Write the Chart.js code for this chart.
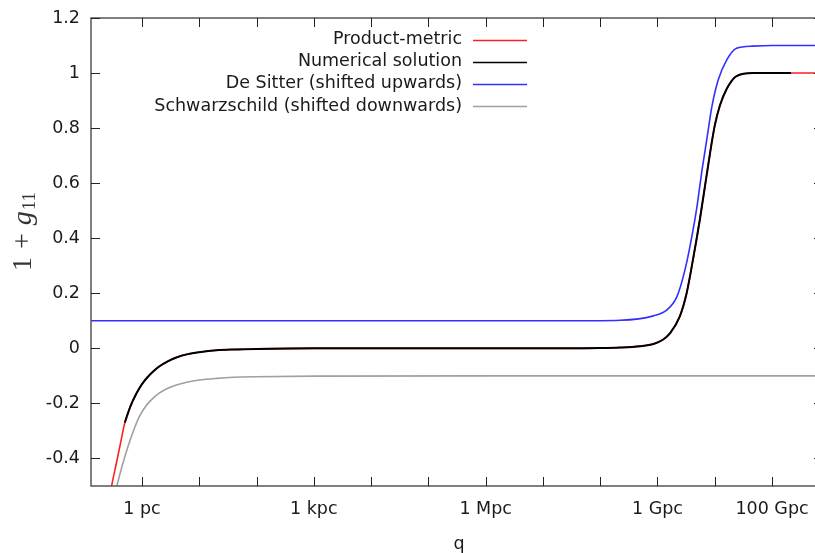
<!DOCTYPE html>
<html>
<head>
<meta charset="utf-8">
<script src="https://cdn.jsdelivr.net/npm/chart.js@4.4.0/dist/chart.umd.min.js"></script>
<style>
  html, body { margin: 0; padding: 0; background: #fff; overflow: hidden; }
  #wrap { width: 830px; height: 553px; }
</style>
</head>
<body>
<div id="wrap"><canvas id="myChart" width="830" height="553"></canvas></div>
<script>
// x values are log10(q / 1 pc)
const numericalX = [-0.30, -0.20, -0.10, 0.00, 0.10, 0.20, 0.30, 0.45, 0.60, 0.80, 1.00, 1.30, 1.60, 2.00, 3.00, 5.00, 7.00, 8.00, 8.35, 8.70, 8.93, 9.10, 9.22, 9.39, 9.51, 9.63, 9.74, 9.83, 9.92, 10.00, 10.09, 10.21, 10.38, 10.67, 11.00, 11.33];
const numericalY = [-0.27, -0.21, -0.165, -0.13, -0.104, -0.083, -0.066, -0.047, -0.033, -0.021, -0.014, -0.007, -0.004, -0.002, 0, 0, 0, 0.001, 0.003, 0.008, 0.016, 0.032, 0.055, 0.116, 0.201, 0.334, 0.468, 0.590, 0.712, 0.809, 0.882, 0.943, 0.989, 1.0, 1.0, 1.0];

const productX = [-0.60, -0.53, -0.45, -0.38, -0.30, -0.20, -0.10, 0.00, 0.10, 0.20, 0.30, 0.45, 0.60, 0.80, 1.00, 1.30, 1.60, 2.00, 3.00, 5.00, 7.00, 8.00, 8.35, 8.70, 8.93, 9.10, 9.22, 9.39, 9.51, 9.63, 9.74, 9.83, 9.92, 10.00, 10.09, 10.21, 10.38, 10.67, 11.00, 11.33, 11.60, 11.89];
const productY = [-0.58, -0.50, -0.42, -0.35, -0.27, -0.21, -0.165, -0.13, -0.104, -0.083, -0.066, -0.047, -0.033, -0.021, -0.014, -0.007, -0.004, -0.002, 0, 0, 0, 0.001, 0.003, 0.008, 0.016, 0.032, 0.055, 0.116, 0.201, 0.334, 0.468, 0.590, 0.712, 0.809, 0.882, 0.943, 0.989, 1.0, 1.0, 1.0, 1.0, 1.0];

const deSitterX = [-0.89, 2.00, 5.00, 7.50, 8.35, 8.93, 9.16, 9.34, 9.48, 9.60, 9.69, 9.77, 9.86, 9.95, 10.06, 10.21, 10.38, 10.67, 11.00, 11.89];
const deSitterY = [0.1, 0.1, 0.1, 0.1, 0.102, 0.118, 0.139, 0.188, 0.285, 0.406, 0.515, 0.636, 0.757, 0.878, 0.975, 1.048, 1.090, 1.098, 1.1, 1.1];

const schwarzX = [-0.55, -0.45, -0.35, -0.25, -0.15, -0.05, 0.05, 0.15, 0.30, 0.45, 0.60, 0.80, 1.00, 1.30, 1.60, 2.00, 3.00, 6.00, 9.00, 11.89];
const schwarzY = [-0.61, -0.51, -0.43, -0.36, -0.30, -0.25, -0.215, -0.19, -0.163, -0.145, -0.133, -0.122, -0.115, -0.109, -0.105, -0.103, -0.101, -0.1, -0.1, -0.1];

const xTickValues = [0, 1, 2, 3, 4, 5, 6, 7, 8, 9, 10, 11];
const xTickLabels = ["1 pc", "", "", "1 kpc", "", "", "1 Mpc", "", "", "1 Gpc", "", "100 Gpc"];
const yTickValues = [-0.4, -0.2, 0, 0.2, 0.4, 0.6, 0.8, 1, 1.2];

const legendLabels = ["Product-metric", "Numerical solution", "De Sitter (shifted upwards)", "Schwarzschild (shifted downwards)"];
const legendColors = ["#ff2020", "#000000", "#3030ff", "#a0a0a0"];

function toPoints(xs, ys) {
  return xs.map((x, i) => ({ x: x, y: ys[i] }));
}

const FONT = "'DejaVu Sans', sans-serif";

// frame, inward ticks, legend and axis titles the gnuplot way
const gnuplotLook = {
  id: "gnuplotLook",
  afterDraw(chart) {
    const ctx = chart.ctx;
    const a = chart.chartArea;
    const xs = chart.scales.x;
    const ys = chart.scales.y;
    ctx.save();

    ctx.strokeStyle = "#555";
    ctx.lineWidth = 1.5;
    ctx.strokeRect(a.left, a.top, a.right - a.left, a.bottom - a.top);

    ctx.strokeStyle = "#222";
    ctx.lineWidth = 1;
    ctx.beginPath();
    xTickValues.forEach((v) => {
      const px = Math.round(xs.getPixelForValue(v)) + 0.5;
      ctx.moveTo(px, a.bottom); ctx.lineTo(px, a.bottom - 9);
      ctx.moveTo(px, a.top); ctx.lineTo(px, a.top + 9);
    });
    yTickValues.forEach((v) => {
      const py = Math.round(ys.getPixelForValue(v)) + 0.5;
      ctx.moveTo(a.left, py); ctx.lineTo(a.left + 9, py);
      ctx.moveTo(a.right, py); ctx.lineTo(a.right - 9, py);
    });
    ctx.stroke();

    // legend: text right aligned, sample line on the right
    ctx.font = "17.5px " + FONT;
    ctx.textAlign = "right";
    ctx.textBaseline = "middle";
    for (let i = 0; i < legendLabels.length; i++) {
      const y = 39.5 + i * 22.2;
      ctx.fillStyle = "#1a1a1a";
      ctx.fillText(legendLabels[i], 462, y);
      ctx.strokeStyle = legendColors[i];
      ctx.lineWidth = 1.5;
      ctx.beginPath();
      ctx.moveTo(473, Math.round(y) + 0.5);
      ctx.lineTo(527, Math.round(y) + 0.5);
      ctx.stroke();
    }

    // x title
    ctx.textAlign = "center";
    ctx.fillStyle = "#1a1a1a";
    ctx.fillText("q", 459, 544);

    // y title: 1 + g_11
    ctx.translate(31, 271);
    ctx.rotate(-Math.PI / 2);
    ctx.textAlign = "left";
    ctx.textBaseline = "alphabetic";
    ctx.fillStyle = "#333";
    let x = 0;
    ctx.font = "28px 'Liberation Serif', serif";
    ctx.fillText("1", x, 0);
    x += ctx.measureText("1").width + 8;
    ctx.fillText("+", x, 0);
    x += ctx.measureText("+").width + 8;
    ctx.font = "italic 28px 'Liberation Serif', serif";
    ctx.fillText("g", x, 0);
    x += ctx.measureText("g").width + 1;
    ctx.font = "19px 'Liberation Serif', serif";
    ctx.fillText("11", x, 4);

    ctx.restore();
  },
};

const ctx = document.getElementById("myChart").getContext("2d");
const chart = new Chart(ctx, {
  type: "line",
  data: {
    datasets: [
      { label: legendLabels[1], data: toPoints(numericalX, numericalY), borderColor: legendColors[1], borderWidth: 2 },
      { label: legendLabels[0], data: toPoints(productX, productY), borderColor: legendColors[0], borderWidth: 1.6 },
      { label: legendLabels[2], data: toPoints(deSitterX, deSitterY), borderColor: legendColors[2], borderWidth: 1.6 },
      { label: legendLabels[3], data: toPoints(schwarzX, schwarzY), borderColor: legendColors[3], borderWidth: 1.6 },
    ],
  },
  options: {
    responsive: false,
    animation: false,
    clip: 0,
    layout: { padding: { left: 0, top: 18, right: 7, bottom: 0 } },
    elements: {
      point: { radius: 0 },
      line: { cubicInterpolationMode: "monotone", fill: false },
    },
    plugins: {
      legend: { display: false },
      tooltip: { enabled: false },
    },
    scales: {
      x: {
        type: "linear",
        min: -0.89,
        max: 11.89,
        grid: { display: false, drawTicks: false },
        border: { display: false },
        afterFit: (scale) => { scale.height = 67; },
        afterBuildTicks: (scale) => { scale.ticks = xTickValues.map((v) => ({ value: v })); },
        ticks: {
          autoSkip: false,
          maxRotation: 0,
          padding: 13,
          color: "#1a1a1a",
          font: { family: FONT, size: 17.5 },
          callback: (v) => xTickLabels[xTickValues.indexOf(v)],
        },
      },
      y: {
        min: -0.5,
        max: 1.2,
        grid: { display: false, drawTicks: false },
        border: { display: false },
        afterFit: (scale) => { scale.width = 91; },
        afterBuildTicks: (scale) => { scale.ticks = yTickValues.map((v) => ({ value: v })); },
        ticks: {
          padding: 11,
          color: "#1a1a1a",
          // small lineHeight so the top label does not push the plot area down
          font: { family: FONT, size: 17.5, lineHeight: 0.6 },
          callback: (v) => String(Number(v.toFixed(1))),
        },
      },
    },
  },
  plugins: [gnuplotLook],
});
</script>
</body>
</html>
